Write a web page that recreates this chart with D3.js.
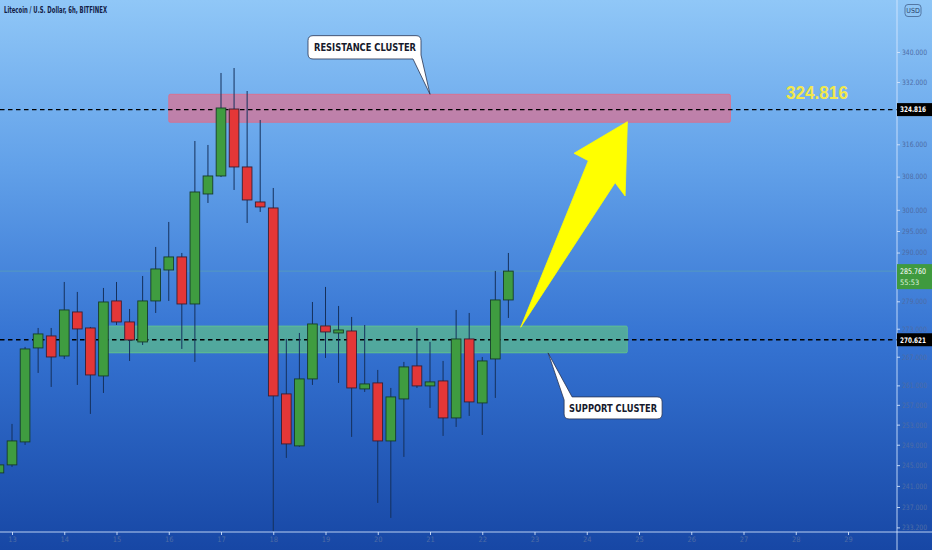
<!DOCTYPE html>
<html><head><meta charset="utf-8">
<script src="https://cdn.jsdelivr.net/npm/d3@7/dist/d3.min.js"></script>
<style>html,body{margin:0;padding:0;background:#1a4ca9;overflow:hidden}svg{display:block}</style>
</head><body>
<svg id="chart" width="932" height="550"></svg>
<script>
// ---------- DATA ----------
const title = "Litecoin / U.S. Dollar, 6h, BITFINEX";
const times = [
 "2021-04-12T18:00Z","2021-04-13T00:00Z","2021-04-13T06:00Z","2021-04-13T12:00Z","2021-04-13T18:00Z",
 "2021-04-14T00:00Z","2021-04-14T06:00Z","2021-04-14T12:00Z","2021-04-14T18:00Z",
 "2021-04-15T00:00Z","2021-04-15T06:00Z","2021-04-15T12:00Z","2021-04-15T18:00Z",
 "2021-04-16T00:00Z","2021-04-16T06:00Z","2021-04-16T12:00Z","2021-04-16T18:00Z",
 "2021-04-17T00:00Z","2021-04-17T06:00Z","2021-04-17T12:00Z","2021-04-17T18:00Z",
 "2021-04-18T00:00Z","2021-04-18T06:00Z","2021-04-18T12:00Z","2021-04-18T18:00Z",
 "2021-04-19T00:00Z","2021-04-19T06:00Z","2021-04-19T12:00Z","2021-04-19T18:00Z",
 "2021-04-20T00:00Z","2021-04-20T06:00Z","2021-04-20T12:00Z","2021-04-20T18:00Z",
 "2021-04-21T00:00Z","2021-04-21T06:00Z","2021-04-21T12:00Z","2021-04-21T18:00Z",
 "2021-04-22T00:00Z","2021-04-22T06:00Z","2021-04-22T12:00Z"
];
const opens  = [243.50,245.05,249.56,268.87,271.44,267.16,276.65,273.16,262.96,279.08,274.47,270.15,279.08,286.02,288.99,278.41,303.79,308.16,324.97,310.37,301.87,300.44,259.24,248.77,262.34,273.60,272.08,272.51,260.27,261.51,249.75,258.21,265.06,260.89,261.92,254.35,270.79,257.39,266.53,279.30];
const highs  = [246.02,253.14,269.08,273.16,273.16,283.31,281.08,273.38,281.97,283.31,277.31,284.66,291.29,297.12,289.90,316.83,315.83,334.39,335.71,329.64,322.15,305.24,270.79,272.08,278.85,282.20,277.97,275.56,273.81,264.22,260.47,265.90,273.16,270.15,266.11,277.09,276.43,266.95,285.80,289.90];
const lows   = [242.53,244.66,248.96,263.59,260.68,266.53,261.09,255.16,259.44,273.81,266.11,269.50,276.43,279.08,268.65,265.90,301.63,307.90,304.76,296.88,299.49,232.55,246.41,248.60,261.09,266.74,261.51,250.55,259.65,237.77,234.96,246.61,260.47,256.37,250.75,252.54,254.76,250.94,258.42,275.34];
const closes = [245.05,249.75,268.65,271.87,266.95,277.09,272.95,263.17,278.85,274.47,270.58,279.08,286.25,288.99,278.41,304.27,308.16,325.23,310.37,302.35,300.68,258.83,249.16,262.34,274.03,272.30,272.73,260.47,261.30,249.75,258.62,264.85,260.89,261.72,254.35,270.79,257.60,266.11,279.30,285.76];

const priceTicks = [340,332,316,308,300,295,290,279,273,267,261,257,253,249,245,241,237,233.2];
const dayTicks = ["2021-04-13","2021-04-14","2021-04-15","2021-04-16","2021-04-17","2021-04-18","2021-04-19","2021-04-20","2021-04-21","2021-04-22","2021-04-23","2021-04-24","2021-04-25","2021-04-26","2021-04-27","2021-04-28","2021-04-29"];

const resistanceLevel = 324.816;
const supportLevel = 270.621;
const lastPrice = 285.760;
const countdown = "55:53";
const resistanceZone = {from:"2021-04-16T00:00Z", to:"2021-04-26T18:00Z", lo:321.56, hi:328.79};
const supportZone    = {from:"2021-04-14T20:00Z", to:"2021-04-24T18:40Z", lo:267.81, hi:273.60};
const arrowTail = {t:"2021-04-22T17:40Z", p:273.32};
const arrowTip  = {t:"2021-04-24T18:40Z", p:321.72};
const resistanceLabel = {text:"RESISTANCE CLUSTER", t:"2021-04-21T00:00Z", p:328.79};
const supportLabel    = {text:"SUPPORT CLUSTER",    t:"2021-04-23T06:15Z", p:267.81};
const bigLabel = {text:"324.816", t:"2021-04-27T19:30Z", p:324.816};

// ---------- SETUP ----------
const W = 932, H = 550, plotR = 897, plotB = 532;
const svg = d3.select("#chart");
const x = d3.scaleUtc()
  .domain([new Date("2021-04-13T00:00Z"), new Date("2021-04-29T00:00Z")])
  .range([12, 848]);
const y = d3.scaleLog().domain([340, 237]).range([52, 507]);

const candles = times.map((t,i)=>({t:new Date(t), o:opens[i], h:highs[i], l:lows[i], c:closes[i]}));

const defs = svg.append("defs");
const grad = defs.append("linearGradient").attr("id","bg").attr("x1",0).attr("y1",0).attr("x2",0).attr("y2",1);
[[0,"#90c7f7"],[0.3,"#62a1e9"],[0.62,"#3573d2"],[1,"#1747a5"]].forEach(([o,c])=>grad.append("stop").attr("offset",o).attr("stop-color",c));
defs.append("clipPath").attr("id","plot").append("rect").attr("x",0).attr("y",0).attr("width",plotR).attr("height",plotB);

svg.append("rect").attr("width",W).attr("height",H).attr("fill","url(#bg)");

const plot = svg.append("g").attr("clip-path","url(#plot)");

// faint last price line
plot.append("line").attr("x1",0).attr("x2",plotR).attr("y1",y(lastPrice)).attr("y2",y(lastPrice))
  .attr("stroke","rgba(120,210,120,0.28)").attr("stroke-width",1);

// zones
function zone(z, fill, stroke){
  const x0 = x(new Date(z.from)), x1 = x(new Date(z.to));
  plot.append("rect").attr("x",x0).attr("y",y(z.hi)).attr("width",x1-x0).attr("height",y(z.lo)-y(z.hi))
    .attr("rx",1.5).attr("fill",fill).attr("stroke",stroke).attr("stroke-width",0.8);
}
zone(resistanceZone,"rgba(255,92,115,0.55)","rgba(255,90,110,0.7)");
zone(supportZone,"rgba(110,222,105,0.5)","rgba(120,230,120,0.55)");

// dashed level lines
[resistanceLevel, supportLevel].forEach(v=>{
  plot.append("line").attr("x1",0).attr("x2",plotR).attr("y1",y(v)).attr("y2",y(v))
    .attr("stroke","#000").attr("stroke-width",1.3).attr("stroke-dasharray","4.5,3.5");
});

// candles
const bw = (x(new Date("2021-04-13T06:00Z")) - x(new Date("2021-04-13T00:00Z"))) * 0.74;
const cg = plot.append("g");
cg.selectAll("line.wick").data(candles).join("line").attr("class","wick")
  .attr("x1",d=>x(d.t)).attr("x2",d=>x(d.t)).attr("y1",d=>y(d.h)).attr("y2",d=>y(d.l))
  .attr("stroke","#15305c").attr("stroke-width",1);
cg.selectAll("rect.body").data(candles).join("rect").attr("class","body")
  .attr("x",d=>x(d.t)-bw/2).attr("width",bw)
  .attr("y",d=>y(Math.max(d.o,d.c)))
  .attr("height",d=>Math.max(1.5, Math.abs(y(d.o)-y(d.c))))
  .attr("fill",d=>d.c>=d.o?"#3f9c40":"#e43737")
  .attr("stroke",d=>d.c>=d.o?"#173d2a":"#3a1f33").attr("stroke-width",0.9);

// arrow (tail/tip from data, head shape in a local frame)
(function(){
  const tx = x(new Date(arrowTail.t)), ty = y(arrowTail.p);
  const px = x(new Date(arrowTip.t)),  py = y(arrowTip.p);
  const len = Math.hypot(px-tx, py-ty);
  const ux = (px-tx)/len, uy = (py-ty)/len, nx = -uy, ny = ux;
  const pt = (a,b)=>[px+ux*a+nx*b, py+uy*a+ny*b];
  const pts = [[tx,ty], pt(-52.6,-16.7), pt(-52.6,-32.8), [px,py], pt(-67.0,32.2), pt(-59.8,17.2)];
  plot.append("path").attr("d","M"+pts.map(p=>p.join(",")).join("L")+"Z")
    .attr("fill","#ffff00").attr("stroke","#ffff00").attr("stroke-width",0.8).attr("stroke-linejoin","round");
})();

// callouts
const calloutFont = "'Liberation Sans Narrow','DejaVu Sans Condensed','Roboto',sans-serif";
(function(){
  const tx = x(new Date(resistanceLabel.t)), ty = y(resistanceLabel.p);
  const x0 = tx-122, x1 = tx-9, y0 = ty-58.6, y1 = ty-35.3, r = 5;
  const d = `M${x0+r},${y0}H${x1-r}Q${x1},${y0} ${x1},${y0+r}V${y1-4}L${tx},${ty}L${x1-8},${y1}H${x0+r}Q${x0},${y1} ${x0},${y1-r}V${y0+r}Q${x0},${y0} ${x0+r},${y0}Z`;
  svg.append("path").attr("d",d).attr("fill","#fff").attr("stroke","#2a3350").attr("stroke-width",0.8);
  svg.append("text").attr("x",x0+6).attr("y",y0+15.3).text(resistanceLabel.text)
    .attr("font-family",calloutFont).attr("font-weight","bold").attr("font-size",10.5)
    .attr("fill","#161a2c").attr("textLength",102).attr("lengthAdjust","spacingAndGlyphs");
})();
(function(){
  const tx = x(new Date(supportLabel.t)), ty = y(supportLabel.p);
  const x0 = tx+16, x1 = tx+114, y0 = ty+44, y1 = ty+66, r = 5;
  const d = `M${x0},${y0+3}L${tx},${ty}L${x0+8},${y0}H${x1-r}Q${x1},${y0} ${x1},${y0+r}V${y1-r}Q${x1},${y1} ${x1-r},${y1}H${x0+r}Q${x0},${y1} ${x0},${y1-r}Z`;
  svg.append("path").attr("d",d).attr("fill","#fff").attr("stroke","#2a3350").attr("stroke-width",0.8);
  svg.append("text").attr("x",x0+5).attr("y",y0+14.8).text(supportLabel.text)
    .attr("font-family",calloutFont).attr("font-weight","bold").attr("font-size",11)
    .attr("fill","#161a2c").attr("textLength",88).attr("lengthAdjust","spacingAndGlyphs");
})();

// big yellow label
svg.append("text").attr("x",x(new Date(bigLabel.t))).attr("y",y(bigLabel.p)-11).text(bigLabel.text)
  .attr("font-family","'Liberation Sans','Roboto',sans-serif").attr("font-weight","bold").attr("font-size",18.5)
  .attr("fill","#f2e84c").attr("textLength",62).attr("lengthAdjust","spacingAndGlyphs");

// title
svg.append("text").attr("x",4).attr("y",13).text(title)
  .attr("font-family",calloutFont).attr("font-weight","bold").attr("font-size",9)
  .attr("fill","#132046").attr("textLength",103).attr("lengthAdjust","spacingAndGlyphs");

// ---------- AXES ----------
const axisCol = "rgba(215,232,255,0.85)", labCol = "#4d6ca6";
const ya = svg.append("g").attr("transform",`translate(${plotR},0)`)
  .call(d3.axisRight(y).tickValues(priceTicks).tickFormat(d3.format(".3f")).tickSize(3).tickPadding(2));
ya.select(".domain").remove();
ya.selectAll(".tick line").attr("stroke",axisCol);
ya.selectAll(".tick text").attr("fill",labCol).attr("font-family",calloutFont).attr("font-size",7.4)
  .attr("textLength",25).attr("lengthAdjust","spacingAndGlyphs");
svg.append("line").attr("x1",plotR).attr("x2",plotR).attr("y1",0).attr("y2",H).attr("stroke",axisCol).attr("stroke-width",1);

const xa = svg.append("g").attr("transform",`translate(0,${plotB})`)
  .call(d3.axisBottom(x).tickValues(dayTicks.map(d=>new Date(d+"T00:00Z"))).tickFormat(d3.utcFormat("%-d")).tickSize(3).tickPadding(2));
xa.select(".domain").remove();
xa.selectAll(".tick line").attr("stroke",axisCol);
xa.selectAll(".tick text").attr("fill",labCol).attr("font-family",calloutFont).attr("font-size",7.4);
svg.append("line").attr("x1",0).attr("x2",W).attr("y1",plotB).attr("y2",plotB).attr("stroke",axisCol).attr("stroke-width",1);

// USD badge
svg.append("rect").attr("x",905).attr("y",4.5).attr("width",16).attr("height",12).attr("rx",3)
  .attr("fill","#8fc6f6").attr("stroke","#3a557f").attr("stroke-width",0.7);
svg.append("text").attr("x",913).attr("y",13.3).attr("text-anchor","middle").text("USD")
  .attr("font-family",calloutFont).attr("font-size",7).attr("fill","#2a3f66");

// axis price badges
function badge(v, fill, txt){
  const cy = y(v);
  svg.append("rect").attr("x",plotR).attr("y",cy-6.5).attr("width",W-plotR).attr("height",13).attr("fill",fill);
  svg.append("text").attr("x",plotR+3).attr("y",cy+2.8).text(txt)
    .attr("font-family",calloutFont).attr("font-weight","bold").attr("font-size",7.6).attr("fill","#fff")
    .attr("textLength",26).attr("lengthAdjust","spacingAndGlyphs");
}
badge(resistanceLevel,"#000",d3.format(".3f")(resistanceLevel));
badge(supportLevel,"#000",d3.format(".3f")(supportLevel));
(function(){
  const cy = y(lastPrice);
  svg.append("rect").attr("x",plotR).attr("y",cy-7).attr("width",W-plotR).attr("height",25).attr("fill","#3f9a3f");
  svg.append("text").attr("x",plotR+3).attr("y",cy+2.8).text(d3.format(".3f")(lastPrice))
    .attr("font-family",calloutFont).attr("font-size",7.6).attr("fill","#fff")
    .attr("textLength",26).attr("lengthAdjust","spacingAndGlyphs");
  svg.append("text").attr("x",plotR+3).attr("y",cy+14).text(countdown)
    .attr("font-family",calloutFont).attr("font-size",7.4).attr("fill","#d8f0d8");
})();
</script>
</body></html>
